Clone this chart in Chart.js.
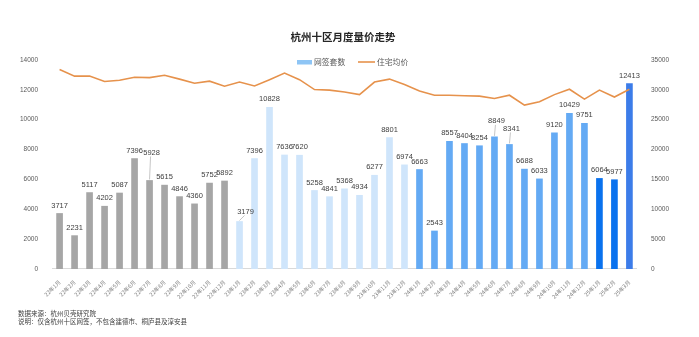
<!DOCTYPE html>
<html lang="zh">
<head>
<meta charset="UTF-8">
<title>杭州十区月度量价走势</title>
<script src="https://cdn.jsdelivr.net/npm/chart.js"></script>
<style>
  html, body { margin: 0; padding: 0; background: #fff; }
  #wrap { width: 699px; height: 337px; }
</style>
</head>
<body>
<div id="wrap"><canvas id="chart" width="699" height="337"></canvas></div>
<script>
const months = [
  "22年1月","22年2月","22年3月","22年4月","22年5月","22年6月","22年7月","22年8月","22年9月","22年10月","22年11月","22年12月",
  "23年1月","23年2月","23年3月","23年4月","23年5月","23年6月","23年7月","23年8月","23年9月","23年10月","23年11月","23年12月",
  "24年1月","24年2月","24年3月","24年4月","24年5月","24年6月","24年7月","24年8月","24年9月","24年10月","24年11月","24年12月",
  "25年1月","25年2月","25年3月"
];
const deals = [
  3717, 2231, 5117, 4202, 5087, 7396, 5928, 5615, 4846, 4360, 5752, 5892,
  3179, 7396, 10828, 7636, 7620, 5258, 4841, 5368, 4934, 6277, 8801, 6974,
  6663, 2543, 8557, 8404, 8254, 8849, 8341, 6688, 6033, 9120, 10429, 9751,
  6064, 5977, 12413
];
const avgPrice = [
  33400, 32300, 32300, 31400, 31600, 32100, 32050, 32450, 31800, 31100, 31450, 30600,
  31300, 30650, 31700, 32800, 31700, 30050, 29950, 29650, 29200, 31300, 31800, 30900,
  29800, 29100, 29100, 29000, 28950, 28550, 29100, 27450, 28000, 29200, 30100, 28450,
  29950, 28800, 30100
];
const leftTicks = [0, 2000, 4000, 6000, 8000, 10000, 12000, 14000];
const rightTicks = [0, 5000, 10000, 15000, 20000, 25000, 30000, 35000];

// bar colour by year
function barColor(i) {
  if (i < 12) return "#a6a6a6";
  if (i < 24) return "#cfe5fb";
  if (i < 36) return "#64aaf4";
  if (i < 38) return "#0a72ee";
  return "#3c7ce9";
}

const FONT = "'Liberation Sans', Arial, sans-serif";
const CJK = "'Noto Sans CJK SC', 'Noto Sans', sans-serif";

// labels that Excel moved off the bar, with leader lines
const labelShift = { 6: [2, -20], 12: [6, -2], 29: [2, -8], 30: [2, -8] };

const extras = {
  id: "extras",
  afterDatasetsDraw(chart) {
    const ctx = chart.ctx;
    const meta = chart.getDatasetMeta(1);
    ctx.save();
    ctx.font = "7.5px " + FONT;
    ctx.fillStyle = "#404040";
    ctx.textAlign = "center";
    ctx.textBaseline = "middle";
    meta.data.forEach((bar, i) => {
      const s = labelShift[i] || [0, 0];
      const x = bar.x + s[0];
      const y = bar.y - 8 + s[1];
      if (labelShift[i]) {
        ctx.strokeStyle = "#a0a0a0";
        ctx.lineWidth = 0.6;
        ctx.beginPath();
        ctx.moveTo(x - 1, y + 4);
        ctx.lineTo(bar.x, bar.y - 1);
        ctx.stroke();
      }
      ctx.fillText(String(deals[i]), x, y);
    });
    ctx.restore();
  },
  afterDraw(chart) {
    const ctx = chart.ctx;
    ctx.save();
    // title
    ctx.font = "bold 10.5px " + CJK;
    ctx.fillStyle = "#262626";
    ctx.textAlign = "center";
    ctx.textBaseline = "middle";
    ctx.fillText("杭州十区月度量价走势", 343, 37);
    // legend
    ctx.font = "7.8px " + CJK;
    ctx.textAlign = "left";
    ctx.fillStyle = "#8ec5f5";
    ctx.fillRect(297, 60, 15, 4.5);
    ctx.fillStyle = "#595959";
    ctx.fillText("网签套数", 314, 62);
    ctx.strokeStyle = "#e6924c";
    ctx.lineWidth = 1.6;
    ctx.beginPath();
    ctx.moveTo(358, 62);
    ctx.lineTo(375, 62);
    ctx.stroke();
    ctx.fillText("住宅均价", 377, 62);
    // notes
    ctx.font = "6.5px " + CJK;
    ctx.fillStyle = "#404040";
    ctx.fillText("数据来源：杭州贝壳研究院", 18, 314);
    ctx.fillText("说明：仅含杭州十区网签，不包含建德市、桐庐县及淳安县", 18, 322);
    ctx.restore();
  }
};

new Chart(document.getElementById("chart"), {
  data: {
    labels: months,
    datasets: [
      {
        type: "line",
        label: "住宅均价",
        data: avgPrice,
        yAxisID: "y1",
        borderColor: "#e6924c",
        borderWidth: 1.6,
        pointRadius: 0,
        tension: 0,
        order: 0
      },
      {
        type: "bar",
        label: "网签套数",
        data: deals,
        yAxisID: "y",
        backgroundColor: deals.map((v, i) => barColor(i)),
        barThickness: 6,
        order: 1
      }
    ]
  },
  options: {
    responsive: false,
    animation: false,
    layout: { padding: { top: 60, left: 14, right: 24, bottom: 35 } },
    plugins: {
      legend: { display: false },
      title: { display: false },
      tooltip: { enabled: false }
    },
    scales: {
      x: {
        grid: { display: false },
        border: { color: "#d9d9d9" },
        ticks: {
          minRotation: 45, maxRotation: 45, autoSkip: false,
          font: { size: 5.5, family: CJK }, color: "#7f7f7f", padding: 2
        }
      },
      y: {
        position: "left",
        min: 0, max: 14000,
        grid: { display: false },
        border: { display: false },
        afterBuildTicks(axis) { axis.ticks = leftTicks.map(v => ({ value: v })); },
        ticks: { font: { size: 6.5, family: FONT }, color: "#595959", padding: 6, callback: v => String(v) }
      },
      y1: {
        position: "right",
        min: 0, max: 35000,
        grid: { display: false },
        border: { display: false },
        afterBuildTicks(axis) { axis.ticks = rightTicks.map(v => ({ value: v })); },
        ticks: { font: { size: 6.5, family: FONT }, color: "#595959", padding: 6, callback: v => String(v) }
      }
    }
  },
  plugins: [extras]
});
</script>
</body>
</html>
